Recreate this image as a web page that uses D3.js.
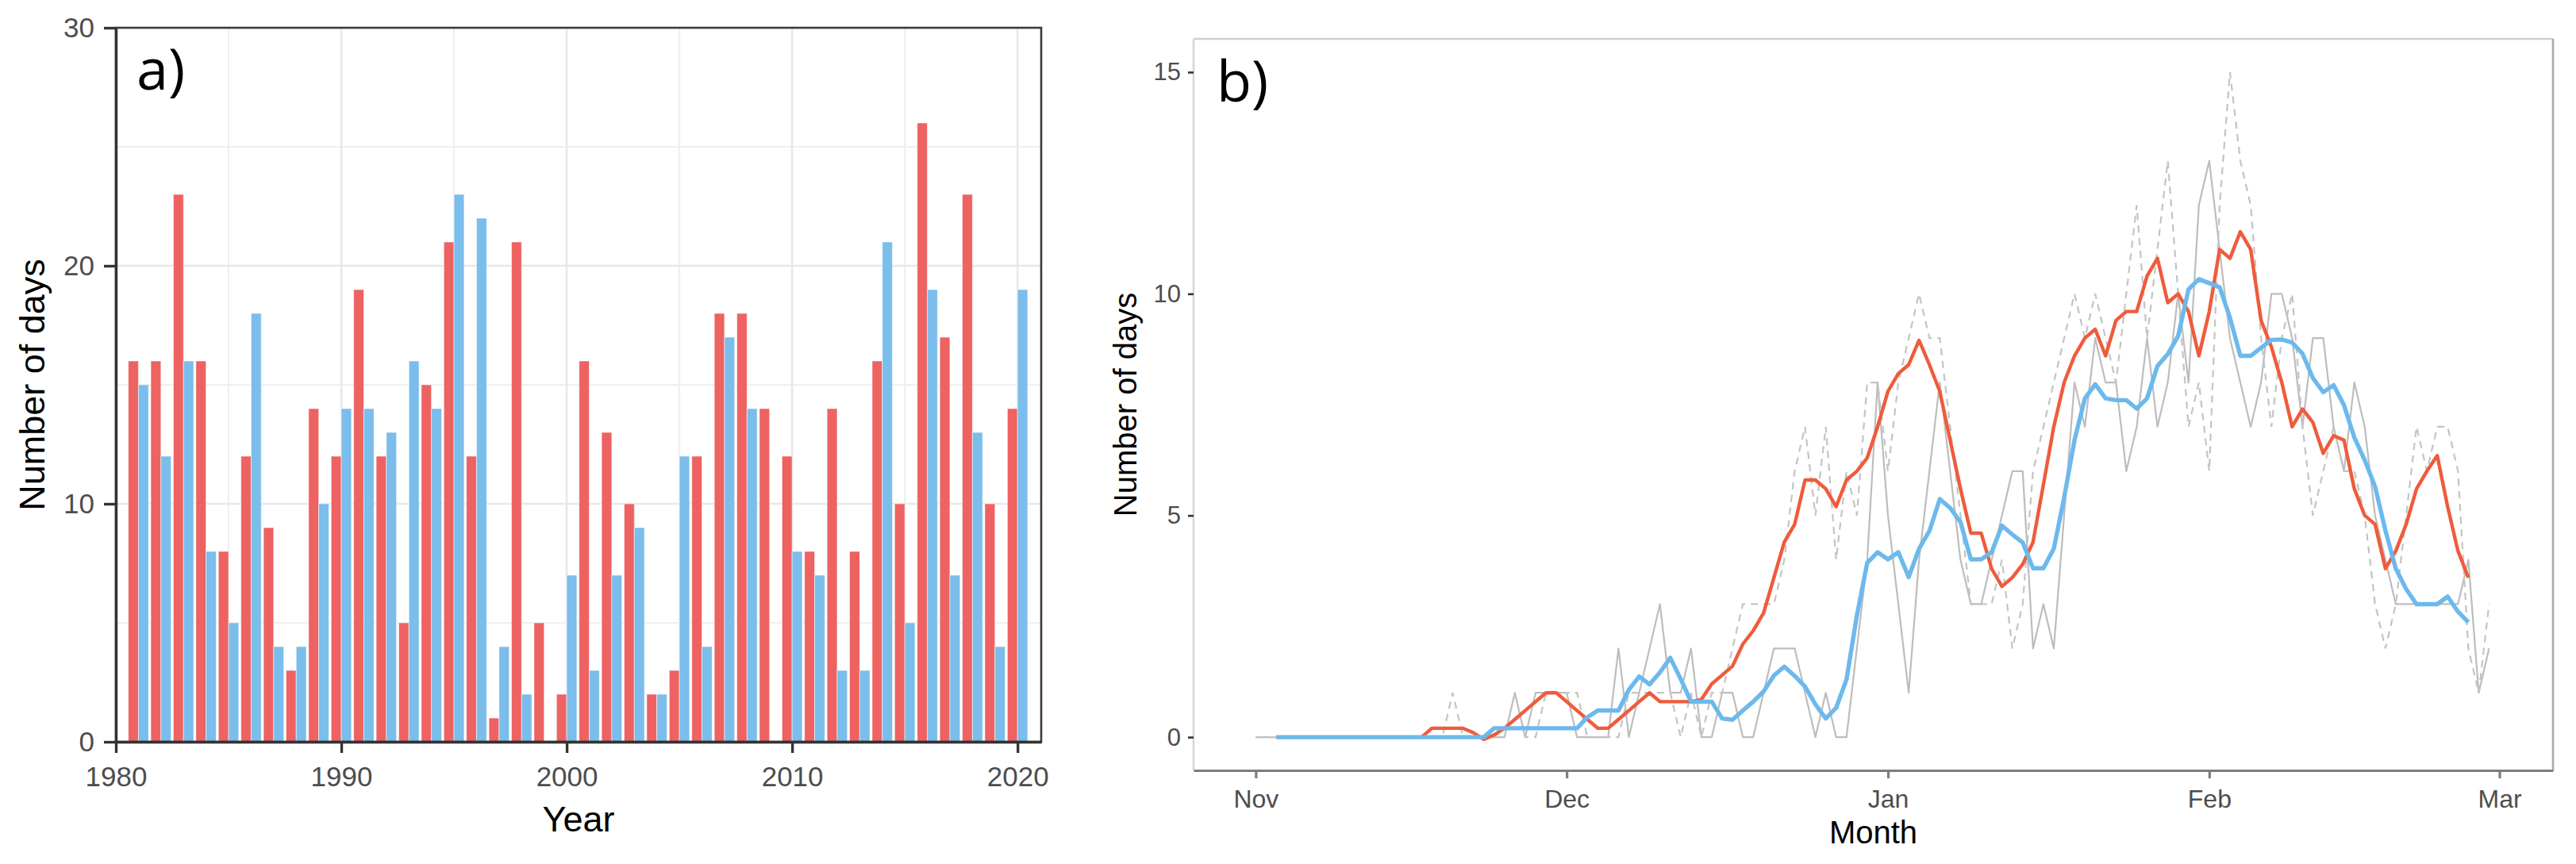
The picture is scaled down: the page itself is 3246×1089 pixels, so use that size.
<!DOCTYPE html>
<html>
<head>
<meta charset="utf-8">
<script src="https://cdn.jsdelivr.net/npm/d3@7"></script>
<style>
  body { margin: 0; background: #fff; }
  svg { display: block; font-family: "Liberation Sans", Arial, sans-serif; }
</style>
</head>
<body>
<div id="chart"></div>
<script>
// ---------- Panel a : number of days per winter ----------
const years = [
  1981, 1982, 1983, 1984, 1985, 1986, 1987, 1988, 1989, 1990,
  1991, 1992, 1993, 1994, 1995, 1996, 1997, 1998, 1999, 2000,
  2001, 2002, 2003, 2004, 2005, 2006, 2007, 2008, 2009, 2010,
  2011, 2012, 2013, 2014, 2015, 2016, 2017, 2018, 2019, 2020
];
const redDays = [
  16, 16, 23, 16, 8, 12, 9, 3, 14, 12,
  19, 12, 5, 15, 21, 12, 1, 21, 5, 2,
  16, 13, 10, 2, 3, 12, 18, 18, 14, 12,
  8, 14, 8, 16, 10, 26, 17, 23, 10, 14
];
const blueDays = [
  15, 12, 16, 8, 5, 18, 4, 4, 10, 14,
  14, 13, 16, 14, 23, 22, 4, 2, 0, 7,
  3, 7, 9, 2, 12, 4, 17, 14, 0, 8,
  7, 3, 3, 21, 5, 19, 7, 13, 4, 19
];
const yearTicks = [1980, 1990, 2000, 2010, 2020];
const yearMinor = [1985, 1995, 2005, 2015];
const dayTicksA = [0, 10, 20, 30];
const dayMinorA = [5, 15, 25];

// ---------- Panel b : daily counts, Nov 1 -> end of Feb ----------
const seasonStart = "2021-11-01";
const monthTicks = ["2021-11-01", "2021-12-01", "2022-01-01", "2022-02-01", "2022-03-01"];
const dayTicksB = [0, 5, 10, 15];

// thin grey solid line, one value per day from Nov 1
const greySolid = [
  0, 0, 0, 0, 0, 0, 0, 0, 0, 0,
  0, 0, 0, 0, 0, 0, 0, 0, 0, 0,
  0, 0, 0, 0, 0, 1, 0, 1, 1, 1,
  1, 0, 0, 0, 0, 2, 0, 1, 2, 3,
  1, 1, 2, 0, 0, 1, 1, 0, 0, 1,
  2, 2, 2, 1, 0, 1, 0, 0, 2, 4,
  8, 5, 3, 1, 4, 6, 8, 6, 4, 3,
  3, 4, 5, 6, 6, 2, 3, 2, 5, 8,
  7, 9, 8, 8, 6, 7, 9, 7, 8, 10,
  8, 12, 13, 11, 9, 8, 7, 8, 10, 10,
  9, 7, 9, 9, 7, 6, 8, 7, 5, 4,
  3, 3, 3, 3, 3, 3, 3, 4, 1, 2
];
// thin grey dashed line, one value per day from Nov 1
const greyDashed = [
  0, 0, 0, 0, 0, 0, 0, 0, 0, 0,
  0, 0, 0, 0, 0, 0, 0, 0, 0, 1,
  0, 0, 0, 0, 0, 1, 0, 0, 1, 1,
  1, 1, 0, 0, 0, 0, 1, 1, 1, 1,
  1, 0, 1, 0, 1, 1, 2, 3, 3, 3,
  3, 4, 6, 7, 5, 7, 4, 6, 5, 8,
  8, 6, 8, 9, 10, 9, 9, 7, 5, 3,
  3, 3, 4, 2, 3, 6, 7, 8, 9, 10,
  9, 10, 9, 8, 10, 12, 9, 11, 13, 10,
  7, 8, 6, 12, 15, 13, 12, 9, 7, 9,
  10, 7, 5, 6, 7, 6, 6, 5, 3, 2,
  3, 5, 7, 6, 7, 7, 6, 2, 1, 3
];
// smoothed lines, one value per day from Nov 3
const smoothOffset = 2;
const redSmooth = [
  0, 0, 0, 0, 0, 0, 0, 0, 0, 0,
  0, 0, 0, 0, 0, 0.2, 0.2, 0.2, 0.2, 0.1,
  -0.05, 0.05, 0.2, 0.4, 0.6, 0.8, 1.0, 1.0, 0.8, 0.6,
  0.4, 0.2, 0.2, 0.4, 0.6, 0.8, 1.0, 0.8, 0.8, 0.8,
  0.8, 0.85, 1.2, 1.4, 1.6, 2.1, 2.4, 2.8, 3.6, 4.4,
  4.8, 5.8, 5.8, 5.6, 5.2, 5.8, 6.0, 6.3, 7.0, 7.8,
  8.2, 8.4, 8.95, 8.4, 7.8, 6.7, 5.6, 4.6, 4.6, 3.8,
  3.4, 3.6, 3.9, 4.4, 5.7, 7.0, 8.0, 8.6, 9.0, 9.2,
  8.6, 9.4, 9.6, 9.6, 10.4, 10.8, 9.8, 10.0, 9.6, 8.6,
  9.6, 11.0, 10.8, 11.4, 11.0, 9.4, 8.8, 8.0, 7.0, 7.4,
  7.1, 6.4, 6.8, 6.7, 5.6, 5.0, 4.8, 3.8, 4.2, 4.8,
  5.6, 6.0, 6.35, 5.2, 4.2, 3.6
];
const blueSmooth = [
  0, 0, 0, 0, 0, 0, 0, 0, 0, 0,
  0, 0, 0, 0, 0, 0, 0, 0, 0, 0,
  0, 0.2, 0.2, 0.2, 0.2, 0.2, 0.2, 0.2, 0.2, 0.2,
  0.45, 0.6, 0.6, 0.6, 1.07, 1.37, 1.19, 1.46, 1.79, 1.31,
  0.8, 0.8, 0.8, 0.42, 0.39, 0.6, 0.8, 1.03, 1.39, 1.59,
  1.38, 1.14, 0.74, 0.42, 0.66, 1.3, 2.74, 3.93, 4.17, 4.01,
  4.17, 3.61, 4.25, 4.65, 5.37, 5.17, 4.85, 4.01, 4.01, 4.17,
  4.77, 4.57, 4.39, 3.81, 3.81, 4.25, 5.4, 6.7, 7.64, 7.96,
  7.64, 7.6, 7.6, 7.41, 7.64, 8.37, 8.64, 9.05, 10.1, 10.33,
  10.24, 10.15, 9.46, 8.6, 8.6, 8.78, 8.96, 8.97, 8.9, 8.65,
  8.1, 7.78, 7.94, 7.49, 6.76, 6.25, 5.65, 4.66, 3.8, 3.34,
  3.0, 3.0, 3.0, 3.17, 2.83, 2.59
];

// ---------- SVG ----------
const width = 3246, height = 1089;
const svg = d3.select("#chart")
    .append("svg")
    .attr("width", width)
    .attr("height", height);

svg.append("rect").attr("width", width).attr("height", height).attr("fill", "#fff");

// ================= Panel a =================
const pa = { left: 146, right: 1312, top: 35, bottom: 935 };
const xa = d3.scaleLinear().domain([1980, 2021.05]).range([pa.left, pa.right]);
const ya = d3.scaleLinear().domain([0, 30]).range([pa.bottom, pa.top]);
const barW = 0.45; // dodge width 0.9 split in two

const ga = svg.append("g");

// grid (minor then major)
ga.append("g").selectAll("line").data(yearMinor).join("line")
    .attr("x1", d => xa(d)).attr("x2", d => xa(d))
    .attr("y1", pa.top).attr("y2", pa.bottom)
    .attr("stroke", "#efefef").attr("stroke-width", 2.2);
ga.append("g").selectAll("line").data(dayMinorA).join("line")
    .attr("x1", pa.left).attr("x2", pa.right)
    .attr("y1", d => ya(d)).attr("y2", d => ya(d))
    .attr("stroke", "#efefef").attr("stroke-width", 2.2);
ga.append("g").selectAll("line").data(yearTicks.slice(1)).join("line")
    .attr("x1", d => xa(d)).attr("x2", d => xa(d))
    .attr("y1", pa.top).attr("y2", pa.bottom)
    .attr("stroke", "#e8e8e8").attr("stroke-width", 2.6);
ga.append("g").selectAll("line").data(dayTicksA.slice(1, 3)).join("line")
    .attr("x1", pa.left).attr("x2", pa.right)
    .attr("y1", d => ya(d)).attr("y2", d => ya(d))
    .attr("stroke", "#e8e8e8").attr("stroke-width", 2.6);

// bars : red left, blue right of each year
ga.append("g").selectAll("rect").data(years).join("rect")
    .attr("x", d => xa(d - barW))
    .attr("width", d => xa(d) - xa(d - barW))
    .attr("y", (d, i) => ya(redDays[i]))
    .attr("height", (d, i) => ya(0) - ya(redDays[i]))
    .attr("fill", "#ee6262")
    .attr("stroke", (d, i) => redDays[i] > 0 ? "#fff" : "none")
    .attr("stroke-opacity", 0.55)
    .attr("stroke-width", 1);
ga.append("g").selectAll("rect").data(years).join("rect")
    .attr("x", d => xa(d))
    .attr("width", d => xa(d + barW) - xa(d))
    .attr("y", (d, i) => ya(blueDays[i]))
    .attr("height", (d, i) => ya(0) - ya(blueDays[i]))
    .attr("fill", "#7bbdeb")
    .attr("stroke", (d, i) => blueDays[i] > 0 ? "#fff" : "none")
    .attr("stroke-opacity", 0.55)
    .attr("stroke-width", 1);

// panel border
ga.append("rect")
    .attr("x", pa.left).attr("y", pa.top)
    .attr("width", pa.right - pa.left).attr("height", pa.bottom - pa.top)
    .attr("fill", "none").attr("stroke", "#3a3a3a").attr("stroke-width", 2.6);

function styleAxis(g, col, w, size, txtCol) {
    g.select(".domain").attr("stroke", col).attr("stroke-width", w);
    g.selectAll(".tick line").attr("stroke", col).attr("stroke-width", w);
    g.selectAll(".tick text")
        .attr("fill", txtCol)
        .style("font-size", size + "px")
        .style("font-family", '"Liberation Sans", Arial, sans-serif');
}

ga.append("g")
    .attr("transform", `translate(${pa.left},0)`)
    .call(d3.axisLeft(ya).tickValues(dayTicksA).tickSize(15).tickPadding(12).tickSizeOuter(0))
    .call(g => styleAxis(g, "#333", 3.4, 35, "#4d4d4d"));

ga.append("g")
    .attr("transform", `translate(0,${pa.bottom})`)
    .call(d3.axisBottom(xa).tickValues(yearTicks).tickFormat(d3.format("d"))
        .tickSize(14).tickPadding(17).tickSizeOuter(0))
    .call(g => styleAxis(g, "#333", 3.4, 35, "#4d4d4d"));

ga.append("text")
    .attr("x", (pa.left + pa.right) / 2).attr("y", 1048)
    .attr("text-anchor", "middle").style("font-size", "45px").attr("fill", "#000")
    .text("Year");
ga.append("text")
    .attr("transform", `translate(56, ${(pa.top + pa.bottom) / 2}) rotate(-90)`)
    .attr("text-anchor", "middle").style("font-size", "45px").attr("fill", "#000")
    .text("Number of days");
ga.append("text")
    .attr("x", 172).attr("y", 113)
    .style("font-family", '"Open Sans", sans-serif').style("font-size", "72px")
    .attr("fill", "#000")
    .text("a)");

// ================= Panel b =================
const pb = { left: 1504, right: 3217, top: 49, bottom: 971 };
const t0 = d3.utcParse("%Y-%m-%d")(seasonStart);
const dayDate = i => d3.utcDay.offset(t0, i);
const xb = d3.scaleUtc()
    .domain([d3.utcDay.offset(t0, -6), d3.utcHour.offset(d3.utcDay.offset(t0, 125), 4)])
    .range([pb.left, pb.right]);
const yb = d3.scaleLinear().domain([-0.75, 15.75]).range([pb.bottom, pb.top]);

const gb = svg.append("g");

// frame : light top/left, mid-grey right
gb.append("line").attr("x1", pb.left).attr("x2", pb.right).attr("y1", pb.top).attr("y2", pb.top)
    .attr("stroke", "#d0d0d0").attr("stroke-width", 2.6);
gb.append("line").attr("x1", pb.left).attr("x2", pb.left).attr("y1", pb.top).attr("y2", pb.bottom)
    .attr("stroke", "#d6d6d6").attr("stroke-width", 2.6);
gb.append("line").attr("x1", pb.right).attr("x2", pb.right).attr("y1", pb.top).attr("y2", pb.bottom)
    .attr("stroke", "#a8a8a8").attr("stroke-width", 2.6);

const lineFrom = offset => d3.line()
    .x((d, i) => xb(dayDate(i + offset)))
    .y(d => yb(d));

gb.append("path").datum(greySolid)
    .attr("d", lineFrom(0))
    .attr("fill", "none").attr("stroke", "#bdbdbd").attr("stroke-width", 2.2)
    .attr("stroke-linejoin", "round");
gb.append("path").datum(greyDashed)
    .attr("d", lineFrom(0))
    .attr("fill", "none").attr("stroke", "#c4c4c4").attr("stroke-width", 2.2)
    .attr("stroke-dasharray", "9,7");
gb.append("path").datum(redSmooth)
    .attr("d", lineFrom(smoothOffset))
    .attr("fill", "none").attr("stroke", "#ef5b3c").attr("stroke-width", 4.4)
    .attr("stroke-linejoin", "round");
gb.append("path").datum(blueSmooth)
    .attr("d", lineFrom(smoothOffset))
    .attr("fill", "none").attr("stroke", "#6cb9ec").attr("stroke-width", 5.4)
    .attr("stroke-linejoin", "round");

gb.append("g")
    .attr("transform", `translate(${pb.left},0)`)
    .call(d3.axisLeft(yb).tickValues(dayTicksB).tickSize(7).tickPadding(9))
    .call(g => {
        styleAxis(g, "#333", 2.6, 31, "#4d4d4d");
        g.select(".domain").remove();
    });

gb.append("g")
    .attr("transform", `translate(0,${pb.bottom})`)
    .call(d3.axisBottom(xb).tickValues(monthTicks.map(d => d3.utcParse("%Y-%m-%d")(d)))
        .tickFormat(d3.utcFormat("%b")).tickSize(10).tickPadding(14).tickSizeOuter(0))
    .call(g => styleAxis(g, "#7d7d7d", 3.2, 32, "#4d4d4d"));

gb.append("text")
    .attr("x", (pb.left + pb.right) / 2).attr("y", 1063)
    .attr("text-anchor", "middle").style("font-size", "40px").attr("fill", "#000")
    .text("Month");
gb.append("text")
    .attr("transform", `translate(1432, ${(pb.top + pb.bottom) / 2}) rotate(-90)`)
    .attr("text-anchor", "middle").style("font-size", "40px").attr("fill", "#000")
    .text("Number of days");
gb.append("text")
    .attr("x", 1533).attr("y", 128)
    .style("font-family", '"Open Sans", sans-serif').style("font-size", "72px")
    .attr("fill", "#000")
    .text("b)");
</script>
</body>
</html>
